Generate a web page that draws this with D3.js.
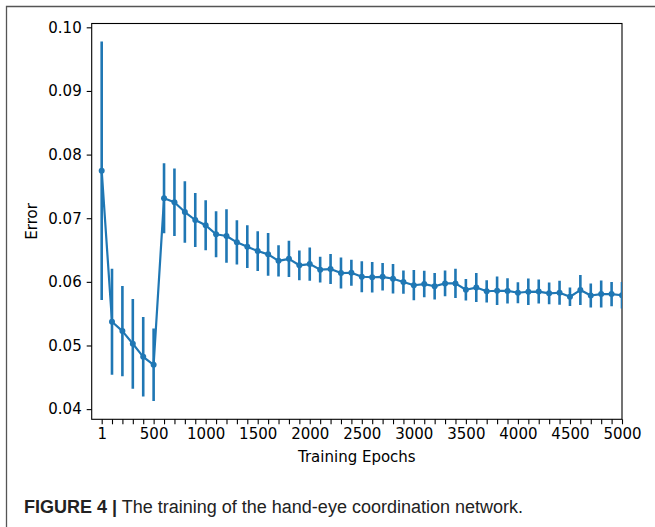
<!DOCTYPE html>
<html>
<head>
<meta charset="utf-8">
<script src="https://cdn.jsdelivr.net/npm/d3@7"></script>
<style>
  html, body { margin: 0; padding: 0; background: #fff; }
  svg { display: block; }
</style>
</head>
<body>
<svg id="chart" width="655" height="527"></svg>
<script>
// ---- data ----
const epochs = [1, 100, 200, 300, 400, 500, 600, 700, 800, 900, 1000,
  1100, 1200, 1300, 1400, 1500, 1600, 1700, 1800, 1900, 2000,
  2100, 2200, 2300, 2400, 2500, 2600, 2700, 2800, 2900, 3000,
  3100, 3200, 3300, 3400, 3500, 3600, 3700, 3800, 3900, 4000,
  4100, 4200, 4300, 4400, 4500, 4600, 4700, 4800, 4900, 5000];
const errorMean = [0.07747, 0.05373, 0.05226, 0.05027, 0.04822, 0.04697, 0.07313, 0.07250, 0.07097, 0.06972, 0.06888,
  0.06748, 0.06720, 0.06621, 0.06552, 0.06484, 0.06432, 0.06330, 0.06362, 0.06260, 0.06280,
  0.06192, 0.06201, 0.06138, 0.06143, 0.06080, 0.06072, 0.06079, 0.06049, 0.05997, 0.05947,
  0.05965, 0.05931, 0.05976, 0.05976, 0.05876, 0.05910, 0.05852, 0.05860, 0.05858, 0.05829,
  0.05844, 0.05847, 0.05819, 0.05829, 0.05766, 0.05871, 0.05785, 0.05808, 0.05808, 0.05789];
const errorStd = [0.02031, 0.00833, 0.00708, 0.00705, 0.00624, 0.00569, 0.00550, 0.00530, 0.00484, 0.00425, 0.00393,
  0.00360, 0.00421, 0.00349, 0.00336, 0.00313, 0.00336, 0.00247, 0.00285, 0.00233, 0.00261,
  0.00204, 0.00235, 0.00244, 0.00206, 0.00243, 0.00240, 0.00216, 0.00233, 0.00183, 0.00238,
  0.00208, 0.00210, 0.00201, 0.00231, 0.00169, 0.00228, 0.00175, 0.00224, 0.00200, 0.00166,
  0.00208, 0.00189, 0.00171, 0.00189, 0.00145, 0.00236, 0.00189, 0.00213, 0.00190, 0.00208];
const xTicks = [1, 100, 200, 300, 400, 500, 600, 700, 800, 900, 1000,
  1100, 1200, 1300, 1400, 1500, 1600, 1700, 1800, 1900, 2000,
  2100, 2200, 2300, 2400, 2500, 2600, 2700, 2800, 2900, 3000,
  3100, 3200, 3300, 3400, 3500, 3600, 3700, 3800, 3900, 4000,
  4100, 4200, 4300, 4400, 4500, 4600, 4700, 4800, 4900, 5000];
const xTickLabels = ["1", "500", "1000", "1500", "2000", "2500", "3000", "3500", "4000", "4500", "5000"];
const yTicks = [0.04, 0.05, 0.06, 0.07, 0.08, 0.09, 0.10];
const yTickLabels = ["0.04", "0.05", "0.06", "0.07", "0.08", "0.09", "0.10"];
const xLabel = "Training Epochs";
const yLabel = "Error";
const captionBold = "FIGURE 4 |";
const captionText = " The training of the hand-eye coordination network.";

// ---- layout ----
const color = "#1f77b4";
const svg = d3.select("#chart");
const L = 91.7, R = 622, T = 23.5, B = 419.3;
const font = "'DejaVu Sans', sans-serif";

// outer frame
svg.append("path")
  .attr("d", "M6.5,527 L6.5,6.5 L655,6.5")
  .attr("fill", "none").attr("stroke", "#555").attr("stroke-width", 1.3);

const x = d3.scaleLinear().domain([-95, 5000]).range([L, R]);
const y = d3.scaleLinear().domain([0.0384, 0.1006]).range([B, T]);

const data = epochs.map((e, i) => ({ e, m: errorMean[i], s: errorStd[i] }));

// axes
const labelled = [1, 500, 1000, 1500, 2000, 2500, 3000, 3500, 4000, 4500, 5000];
const fmtX = v => {
  const idx = labelled.indexOf(v);
  return idx >= 0 ? xTickLabels[idx] : "";
};
const xAxis = d3.axisBottom(x).tickValues(xTicks).tickFormat(fmtX).tickSize(5).tickSizeOuter(0).tickPadding(4);
const yAxis = d3.axisLeft(y).tickValues(yTicks).tickFormat((v, i) => yTickLabels[i]).tickSize(5).tickSizeOuter(0).tickPadding(5);

const gx = svg.append("g").attr("transform", `translate(0,${B})`).call(xAxis);
const gy = svg.append("g").attr("transform", `translate(${L},0)`).call(yAxis);
[gx, gy].forEach(g => {
  g.select(".domain").remove();
  g.selectAll(".tick line").attr("stroke", "#000").attr("stroke-width", 1.1);
  g.selectAll(".tick text").attr("fill", "#000")
    .style("font-family", font).style("font-size", "15px");
});

// frame (spines)
svg.append("rect").attr("x", L).attr("y", T).attr("width", R - L).attr("height", B - T)
  .attr("fill", "none").attr("stroke", "#000").attr("stroke-width", 1.1);

// clip
svg.append("clipPath").attr("id", "clip").append("rect")
  .attr("x", L).attr("y", T).attr("width", R - L).attr("height", B - T);
const plot = svg.append("g").attr("clip-path", "url(#clip)");

// error bars
plot.selectAll("line.err").data(data).join("line")
  .attr("class", "err")
  .attr("x1", d => x(d.e)).attr("x2", d => x(d.e))
  .attr("y1", d => y(d.m - d.s)).attr("y2", d => y(d.m + d.s))
  .attr("stroke", color).attr("stroke-width", 2.6);

// line
plot.append("path").datum(data)
  .attr("d", d3.line().x(d => x(d.e)).y(d => y(d.m)))
  .attr("fill", "none").attr("stroke", color).attr("stroke-width", 2.2)
  .attr("stroke-linejoin", "round");

// markers
plot.selectAll("circle").data(data).join("circle")
  .attr("cx", d => x(d.e)).attr("cy", d => y(d.m)).attr("r", 3)
  .attr("fill", color);

// axis labels
svg.append("text").attr("x", (L + R) / 2).attr("y", 462)
  .attr("text-anchor", "middle")
  .style("font-family", font).style("font-size", "15px")
  .text(xLabel);
svg.append("text")
  .attr("transform", `translate(37,${(T + B) / 2}) rotate(-90)`)
  .attr("text-anchor", "middle")
  .style("font-family", font).style("font-size", "15px")
  .text(yLabel);

// caption
const cap = svg.append("text").attr("x", 24).attr("y", 513)
  .style("font-family", "'Liberation Sans Narrow', 'Liberation Sans', Arial, sans-serif")
  .style("font-size", "18px").attr("fill", "#222");
cap.append("tspan").attr("font-weight", "bold").text(captionBold);
cap.append("tspan").text(captionText);
</script>
</body>
</html>
